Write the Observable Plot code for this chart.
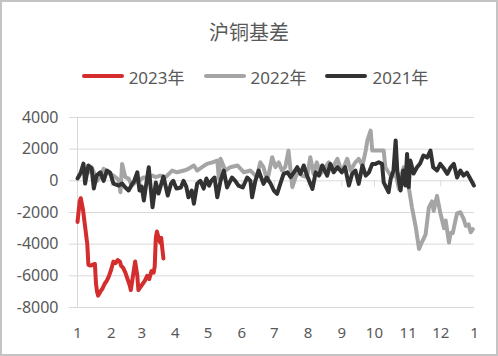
<!DOCTYPE html>
<html>
<head>
<meta charset="utf-8">
<script src="https://cdn.jsdelivr.net/npm/d3@7"></script>
<script src="https://cdn.jsdelivr.net/npm/@observablehq/plot@0.6"></script>
<style>
  html, body { margin: 0; padding: 0; background: #fff; }
  #wrap { position: relative; width: 498px; height: 356px; overflow: hidden; font-family: "Noto Sans", "Noto Sans CJK SC", sans-serif; color: #595959; }
  #frame { position: absolute; left: 0; top: 0; width: 498px; height: 356px; box-sizing: border-box; border: 2px solid #c4c4c4; pointer-events: none; z-index: 5; }
  #title { position: absolute; left: 0; top: 18px; width: 498px; text-align: center; font-family: "Noto Sans CJK SC", sans-serif; font-size: 20px; line-height: 28px; color: #595959; }
  #legend { position: absolute; left: 6px; top: 64px; width: 498px; height: 24px; display: flex; justify-content: center; align-items: center; gap: 19px; font-size: 17px; font-family: "Noto Sans", "Noto Sans CJK SC", sans-serif; }
  .item { display: flex; align-items: center; gap: 5px; }
  .swatch { width: 42px; height: 4px; border-radius: 2px; }
  #plot { position: absolute; left: 0; top: 100px; }
</style>
</head>
<body>
<div id="wrap">
  <div id="title"></div>
  <div id="legend"></div>
  <div id="plot"></div>
  <div id="frame"></div>
</div>
<script>
const titleText = "沪铜基差";
const seriesNames = ["2023年", "2022年", "2021年"];
const seriesColors = ["#d42d2d", "#a5a5a5", "#323232"];

const yTicks = [-8000, -6000, -4000, -2000, 0, 2000, 4000];
const monthTicks = [0, 31, 59, 90, 120, 151, 181, 212, 243, 273, 304, 334, 365];
const monthLabels = ["1", "2", "3", "4", "5", "6", "7", "8", "9", "10", "11", "12", "1"];

// [day of year, basis]
const s2023 = [[0,-2600],[2,-1300],[3,-1100],[5,-1800],[7,-2900],[9,-4000],[10,-5300],[12,-5350],[14,-5300],[16,-5250],[17,-6500],[18,-7000],[19,-7250],[21,-7000],[23,-6800],[25,-6500],[27,-6300],[29,-6000],[31,-5600],[33,-5100],[35,-5200],[37,-5000],[39,-5100],[40,-5350],[42,-5500],[44,-5800],[46,-6200],[48,-6600],[49,-6900],[51,-6000],[53,-5100],[55,-6000],[56,-6900],[58,-6700],[60,-6500],[62,-6300],[64,-6000],[66,-6200],[68,-5700],[70,-5800],[71,-5400],[72,-3600],[73,-3200],[75,-3700],[76,-3900],[77,-3600],[78,-4300],[79,-4900]];

const s2022 = [[1,230],[4,650],[7,760],[10,520],[13,860],[15,540],[18,0],[21,270],[24,760],[29,460],[33,330],[36.5,145],[38,0],[39.5,-720],[41,1070],[44,230],[47,145],[50,-300],[53,-110],[56,0],[60.5,210],[64,230],[69,330],[72,230],[76,330],[81,230],[87,650],[91.5,540],[98,650],[102,760],[107,970],[110,650],[114.5,860],[119,1070],[124,1170],[128.5,1280],[130,145],[131.5,1390],[136,650],[140.5,860],[147,970],[153,540],[159,650],[165,230],[168,1170],[171,860],[174.5,0],[179,1490],[182,860],[185,1170],[188,650],[191,860],[194,1910],[197.5,-400],[200.5,230],[203.5,650],[206.5,330],[211,230],[214,1490],[217,440],[220,1170],[223.5,440],[228,860],[231,1170],[234,760],[239,1390],[243,540],[248,1390],[251,650],[255.5,1170],[258.5,1390],[262,970],[265,1910],[266.5,2550],[269.5,3170],[271,1910],[274,1910],[278.5,1910],[281.5,1910],[283,860],[286,540],[289,230],[292.5,440],[295.5,-510],[297,230],[300,860],[303,230],[304.5,-400],[307.5,-1670],[311,-2930],[314,-4300],[316.5,-3900],[320,-3400],[323,-1700],[326,-1300],[327.5,-1900],[330.5,-950],[333.5,-2000],[337,-3000],[338.5,-2500],[341.5,-3900],[343,-3300],[345,-3300],[347.5,-2500],[349,-2050],[352,-1980],[355,-2400],[357,-2850],[359.5,-2750],[361.5,-3250],[363.5,-3050]];

const s2021 = [[0,150],[3,520],[5.5,1090],[7,-170],[10,970],[13,780],[15,-490],[17.5,330],[21,540],[24,0],[27,650],[30,520],[33,-170],[38,-300],[41,-170],[44,-420],[47,-610],[50,-230],[52,-40],[55,540],[57,-610],[59,-360],[61,-1240],[65.5,860],[69,-1670],[72,-110],[74.5,-800],[79,270],[83,-930],[86,-170],[88,0],[91,-490],[95,-420],[97.5,0],[100,-360],[102,-1040],[105,-610],[107,-1450],[110,-190],[113,0],[116,-490],[118.5,150],[121,-300],[123,0],[126,210],[128.5,-1040],[131.5,0],[134.5,650],[137.5,-420],[142,210],[145,0],[148,-300],[152,-420],[156,210],[159,0],[160.5,-1040],[163.5,0],[166.5,650],[171,-190],[174,210],[177.5,-170],[180.5,-610],[183.5,-820],[186.5,-170],[189.5,440],[193,540],[196,230],[199,540],[202,860],[205,440],[208,970],[211,330],[216,-510],[219,540],[222,330],[225,970],[229.5,330],[232.5,1070],[235.5,540],[239,860],[243,540],[246,860],[249.5,-300],[252.5,440],[255.5,650],[258.5,-190],[262,970],[265,330],[268,540],[271,1070],[274,1070],[277,1170],[280,1070],[281.5,-90],[284.5,-510],[286,-720],[288,150],[290.5,650],[292.5,2550],[294,650],[295.5,0],[297,-610],[299.5,650],[301.5,-300],[303,1700],[304.5,-400],[306,1280],[309,460],[312,840],[315,1090],[318,1600],[321.5,1470],[324.5,1910],[327,860],[330.5,650],[333.5,1070],[337,760],[340,440],[343,840],[346,1070],[349,210],[352,650],[355,330],[358,520],[361,150],[364.5,-300]];

document.getElementById("title").textContent = titleText;
const legend = document.getElementById("legend");
seriesNames.forEach((name, i) => {
  const item = document.createElement("div");
  item.className = "item";
  const sw = document.createElement("div");
  sw.className = "swatch";
  sw.style.background = seriesColors[i];
  const tx = document.createElement("span");
  tx.textContent = name;
  item.appendChild(sw);
  item.appendChild(tx);
  legend.appendChild(item);
});

const toRows = (arr) => arr.map(([d, v]) => ({d, v}));
const labelOf = new Map(monthTicks.map((d, i) => [d, monthLabels[i]]));
const grid = "#d9d9d9";

const chart = Plot.plot({
  width: 498,
  height: 256,
  marginTop: 17,
  marginBottom: 49,
  marginLeft: 77,
  marginRight: 24,
  style: {fontFamily: "'Noto Sans', sans-serif", fontSize: "16px", color: "#595959", background: "transparent"},
  x: {domain: [0, 365]},
  y: {domain: [-8000, 4000]},
  marks: [
    Plot.ruleY(yTicks, {stroke: grid, strokeWidth: 1, insetLeft: -8}),
    Plot.ruleX([0], {stroke: grid, strokeWidth: 1}),
    Plot.ruleX(monthTicks.slice(1), {y1: 0, y2: -380, stroke: grid, strokeWidth: 1}),
    Plot.axisY({ticks: yTicks, tickSize: 0, tickPadding: 19, tickFormat: d => String(d), label: null, fontSize: 16}),
    Plot.axisX({ticks: monthTicks, tickSize: 0, tickPadding: 20, tickFormat: d => labelOf.get(d), label: null, fontSize: 15}),
    Plot.line(toRows(s2022), {x: "d", y: "v", stroke: seriesColors[1], strokeWidth: 4, curve: "linear"}),
    Plot.line(toRows(s2021), {x: "d", y: "v", stroke: seriesColors[2], strokeWidth: 4, curve: "linear"}),
    Plot.line(toRows(s2023), {x: "d", y: "v", stroke: seriesColors[0], strokeWidth: 4, curve: "linear"})
  ]
});
document.getElementById("plot").appendChild(chart);
</script>
</body>
</html>
